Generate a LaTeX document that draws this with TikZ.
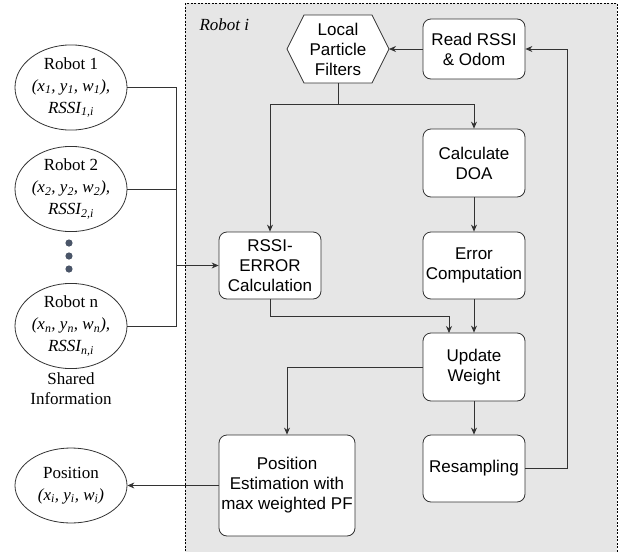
\documentclass[tikz,border=0pt]{standalone}
\usepackage{fontspec}
\setmainfont{Liberation Serif}
\newfontfamily\boxfont{Liberation Sans}
\usetikzlibrary{shapes.geometric,arrows.meta}
\definecolor{bgray}{HTML}{E6E6E6}
\definecolor{lcol}{HTML}{333333}
\definecolor{dotcol}{HTML}{4A5568}
\tikzset{
  procbox/.style={draw=lcol, fill=white, rounded corners=8pt, line width=0.8pt,
    align=center, font=\boxfont\fontsize{17}{20}\selectfont, inner sep=0pt},
  robotell/.style={draw=lcol, fill=white, ellipse, line width=0.8pt, minimum width=112pt,
    minimum height=69pt, align=center, inner sep=0pt, font=\fontsize{17}{22}\selectfont},
  conn/.style={draw=lcol, line width=0.8pt},
  arr/.style={conn, -{Stealth[length=7pt,width=6pt]}},
}
\begin{document}
\begin{tikzpicture}[x=1pt,y=-1pt]
\useasboundingbox (0,0) rectangle (619,552);
% Robot i container
\draw[fill=bgray, draw=black, line width=0.6pt, dash pattern=on 2pt off 1.5pt] (185,3) rectangle (617,560);
\node[font=\itshape\fontsize{17}{20}\selectfont, anchor=west] (rlabel) at (196,25) {Robot i};

% hexagon
\coordinate (h1) at (287,49);
\coordinate (h2) at (304,15);
\coordinate (h3) at (372,15);
\coordinate (h4) at (389,49);
\coordinate (h5) at (372,83);
\coordinate (h6) at (304,83);
\draw[draw=lcol, fill=white, line width=0.8pt] (h1) -- (h2) -- (h3) -- (h4) -- (h5) -- (h6) -- cycle;
\node[align=center, font=\boxfont\fontsize{17}{20}\selectfont, inner sep=0pt] (lpf) at (338,49) {Local\\Particle\\Filters};
\coordinate (lpfb) at (338,83);

\node[procbox, minimum width=102pt, minimum height=60pt] (read) at (474,49) {Read RSSI\\\& Odom};
\node[procbox, minimum width=102pt, minimum height=68pt] (doa) at (474,163) {Calculate\\DOA};
\node[procbox, minimum width=102pt, minimum height=67pt] (err) at (474,265.5) {Error\\Computation};
\node[procbox, minimum width=102pt, minimum height=68pt] (upd) at (474,367) {Update\\Weight};
\node[procbox, minimum width=102pt, minimum height=67pt] (res) at (474,468.5) {Resampling};
\node[procbox, minimum width=102pt, minimum height=67pt] (rssi) at (270,265.5) {RSSI-\\ERROR\\Calculation};
\node[procbox, minimum width=136pt, minimum height=101pt] (pos) at (287,485.5) {Position\\Estimation with\\max weighted PF};

\node[robotell] (r1) at (71,87.5) {Robot 1\\{\itshape (x\textsubscript{1}, y\textsubscript{1}, w\textsubscript{1}),}\\{\itshape RSSI\textsubscript{1,i}}};
\node[robotell] (r2) at (71,189) {Robot 2\\{\itshape (x\textsubscript{2}, y\textsubscript{2}, w\textsubscript{2}),}\\{\itshape RSSI\textsubscript{2,i}}};
\node[robotell] (rn) at (71,326) {Robot n\\{\itshape (x\textsubscript{n}, y\textsubscript{n}, w\textsubscript{n}),}\\{\itshape RSSI\textsubscript{n,i}}};
\node[robotell, minimum height=75pt] (posi) at (71,485.5) {Position\\{\itshape (x\textsubscript{i}, y\textsubscript{i}, w\textsubscript{i})}};
\node[align=center, font=\fontsize{17}{20}\selectfont] (shared) at (71,389) {Shared\\Information};

\fill[dotcol] (69,243) circle (3.6pt);
\fill[dotcol] (69,256) circle (3.6pt);
\fill[dotcol] (69,269) circle (3.6pt);

% connectors
\coordinate (bus) at (176,265.5);
\draw[conn] (r1.east) -| (176,326) -- (rn.east);
\draw[conn] (r2.east) -- (176,189);
\draw[arr] (bus) -- (rssi.west);

\draw[arr] (read.west) -- (h4);
\draw[conn] (lpfb) -- (338,104);
\draw[arr] (338,104) -| (rssi.north);
\draw[arr] (338,104) -| (doa.north);
\draw[arr] (doa) -- (err);
\draw[arr] (err) -- (upd);
\draw[arr] (rssi.south) |- (449,316) -- (449,333);
\draw[arr] (upd.west) -| (pos.north);
\draw[arr] (upd) -- (res);
\draw[arr] (res.east) -| (567,49) -- (read.east);
\draw[arr] (pos.west) -- (posi.east);
\end{tikzpicture}
\end{document}
